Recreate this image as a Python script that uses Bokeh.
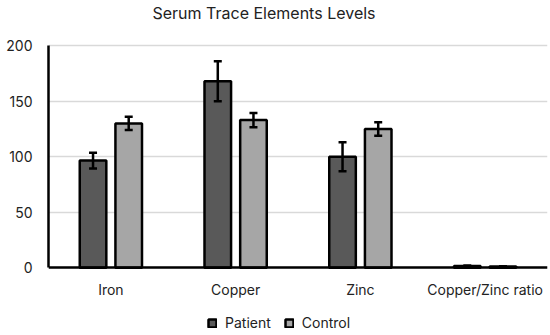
from bokeh.plotting import figure
from bokeh.models import (ColumnDataSource, FactorRange, Range1d, Whisker, Legend,
                          LegendItem, FixedTicker, TeeHead)
from bokeh.transform import dodge
from bokeh.embed import file_html
from bokeh.resources import INLINE

categories = ["Iron", "Copper", "Zinc", "Copper/Zinc ratio"]
patient = [96.5, 168, 100, 1.7]
control = [130, 133, 125, 1.1]
patient_err = [7, 18, 13, 0.3]
control_err = [6, 6.5, 6, 0.2]
y_ticks = [0, 50, 100, 150, 200]

src = ColumnDataSource(dict(
    cat=categories, patient=patient, control=control,
    p_lo=[v - e for v, e in zip(patient, patient_err)],
    p_hi=[v + e for v, e in zip(patient, patient_err)],
    c_lo=[v - e for v, e in zip(control, control_err)],
    c_hi=[v + e for v, e in zip(control, control_err)],
))

FONT = "Inter"
p = figure(width=550, height=335, x_range=FactorRange(*categories, range_padding=0),
           y_range=Range1d(-61, 220.9), output_backend="svg", toolbar_location=None,
           min_border_left=48, min_border_right=3, min_border_top=22, min_border_bottom=0)
p.title.text = "Serum Trace Elements Levels"
p.title.text_font = FONT
p.title.text_font_size = "16px"
p.title.text_font_style = "normal"
p.title.text_color = "#222222"
p.title.align = "left"
p.title.offset = 104
p.title.standoff = 0
p.outline_line_color = None
p.background_fill_color = "white"
p.border_fill_color = "white"

off = 0.143
bw = 0.213
r1 = p.vbar(x=dodge("cat", -off, range=p.x_range), top="patient", width=bw, source=src,
            fill_color="#595959", line_color="black", line_width=2.5)
r2 = p.vbar(x=dodge("cat", off, range=p.x_range), top="control", width=bw, source=src,
            fill_color="#a6a6a6", line_color="black", line_width=2.5)

for base, lo, hi in [(dodge("cat", -off, range=p.x_range), "p_lo", "p_hi"),
                     (dodge("cat", off, range=p.x_range), "c_lo", "c_hi")]:
    w = Whisker(source=src, base=base, lower=lo, upper=hi, line_color="black", line_width=2.5,
                level="overlay",
                lower_head=TeeHead(size=8, line_color="black", line_width=2.5),
                upper_head=TeeHead(size=8, line_color="black", line_width=2.5))
    p.add_layout(w)

p.xgrid.grid_line_color = None
p.ygrid.grid_line_color = "#d9d9d9"
p.ygrid.grid_line_width = 1.5
p.yaxis.ticker = FixedTicker(ticks=y_ticks)
p.yaxis.bounds = (0, 200)
p.xaxis.fixed_location = 0
for ax in (p.xaxis[0], p.yaxis[0]):
    ax.axis_line_color = "black"
    ax.axis_line_width = 2.5
    ax.major_tick_line_color = None
    ax.minor_tick_line_color = None
    ax.major_tick_out = 0
    ax.major_tick_in = 0
    ax.major_label_text_font = FONT
    ax.major_label_text_font_size = "14px"
    ax.major_label_text_color = "#222222"
p.yaxis.major_label_standoff = 16
p.xaxis.major_label_standoff = 13

legend = Legend(items=[LegendItem(label="Patient", renderers=[r1]),
                       LegendItem(label="Control", renderers=[r2])],
                orientation="horizontal", location=(159, 4), border_line_color=None,
                label_text_font=FONT, label_text_font_size="14px", label_text_color="#222222",
                glyph_width=10, glyph_height=10, label_standoff=8, spacing=13,
                padding=4, margin=0, background_fill_alpha=0)
p.add_layout(legend, "center")

open("out.html", "w").write(file_html(p, INLINE))
